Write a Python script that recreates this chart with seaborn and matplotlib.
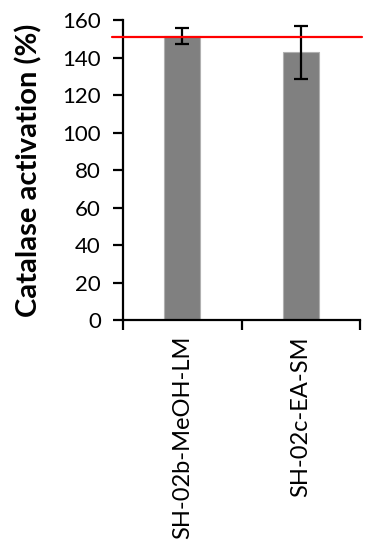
import matplotlib
matplotlib.use('Agg')
import matplotlib.pyplot as plt
import seaborn as sns
import pandas as pd

# data
samples = ['SH-02b-MeOH-LM', 'SH-02c-EA-SM']
activation = [151.5, 143.0]
err_low = [4.5, 14.5]
err_high = [4.5, 14.0]
reference_level = 151.2

sns.set_style('white')
plt.rcParams['font.family'] = ['Lato', 'DejaVu Sans']

df = pd.DataFrame({'sample': samples, 'activation': activation})

fig = plt.figure(figsize=(3.75, 5.5), dpi=100)
ax = fig.add_axes([0.328, 0.418, 0.632, 0.5455])

sns.barplot(data=df, x='sample', y='activation', color='#808080',
            saturation=1, width=0.3, edgecolor='#b0b0b0', linewidth=0.8, ax=ax)
ax.errorbar(range(len(samples)), activation, yerr=[err_low, err_high],
            fmt='none', ecolor='black', elinewidth=1.6, capsize=5, capthick=1.6)

ax.axhline(reference_level, xmin=-0.045, xmax=1.01, color='#ff0000',
           linewidth=1.6, clip_on=False, zorder=5)

ax.set_ylim(0, 160)
ax.set_xlim(-0.5, 1.5)
ax.set_yticks(range(0, 161, 20))
ax.set_xlabel('')
ax.set_ylabel('Catalase activation (%)', fontsize=21, fontweight='bold',
              color='black', labelpad=14)

sns.despine(ax=ax)
for side in ['left', 'bottom']:
    ax.spines[side].set_color('black')
    ax.spines[side].set_linewidth(1.6)

ax.tick_params(axis='y', which='major', left=True, length=7, width=1.6,
               labelsize=16, colors='black', pad=9)
ax.set_xticks([-0.5, 0.5, 1.5], minor=True)
ax.tick_params(axis='x', which='minor', bottom=True, length=7, width=1.6, color='black')
ax.tick_params(axis='x', which='major', bottom=False, labelsize=17,
               labelcolor='black', pad=8)
plt.setp(ax.get_xticklabels(), rotation=90, va='top', ha='center')

fig.savefig('out.png', dpi=100)
